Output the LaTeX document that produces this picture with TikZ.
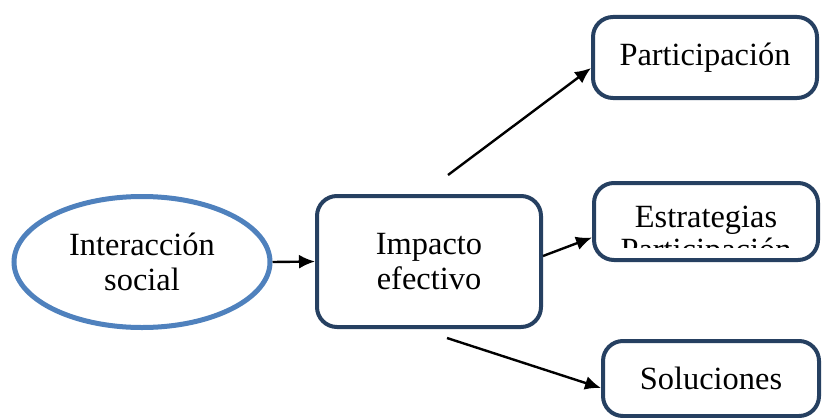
\documentclass[tikz,border=0pt]{standalone}
\usepackage{fontspec}
\setmainfont{Liberation Serif}
\usetikzlibrary{shapes.geometric,arrows.meta}
\definecolor{boxblue}{RGB}{38,64,97}
\definecolor{ovalblue}{RGB}{79,129,189}

\begin{document}
\begin{tikzpicture}[x=0.5pt,y=-0.5pt,
		every node/.style={font=\fontsize{16.2}{17.5}\selectfont},
		box/.style={draw=boxblue, line width=2pt, rounded corners=10pt, align=center, inner sep=0pt},
		oval/.style={ellipse, draw=ovalblue, line width=2.5pt, align=center, inner sep=0pt},
		arr/.style={-{Latex[length=8pt,width=7pt]}, line width=1.2pt}]
		\useasboundingbox (0,0) rectangle (822,417);
		\node (soc)[oval, minimum width=128pt, minimum height=65.5pt] at (142,262){Interacci\'on\\social};
		\node (imp)[box, minimum width=112pt, minimum height=65.5pt] at (429,261.5){Impacto\\efectivo};
		\node (par)[box, minimum width=112pt, minimum height=40.5pt] at (705,57.5){Participaci\'on};
		\node (est)[box, minimum width=112pt, minimum height=38.5pt] at (706,221.5){};
		\node (sol)[box, minimum width=108pt, minimum height=37.5pt] at (711,378.5){Soluciones};
		%
		\begin{scope}
			\clip (597,185) rectangle (816,247);
			\node (estA)[anchor = base] at (706,227){Estrategias};
			\node (estB)[anchor = base] at (706,260){Participaci\'on};
		\end{scope}
		%
		\coordinate (up) at (448,175);
		\coordinate (down) at (447,338);
		\draw[arr] (soc.east) -- (imp.west);
		\draw[arr] (up) -- ([yshift=-5.25pt]par.west);
		\draw[arr] ([yshift=2.75pt]imp.east) -- ([yshift=-8pt]est.west);
		\draw[arr] (down) -- ([yshift=-4.75pt]sol.west);
	\end{tikzpicture}
\end{document}
